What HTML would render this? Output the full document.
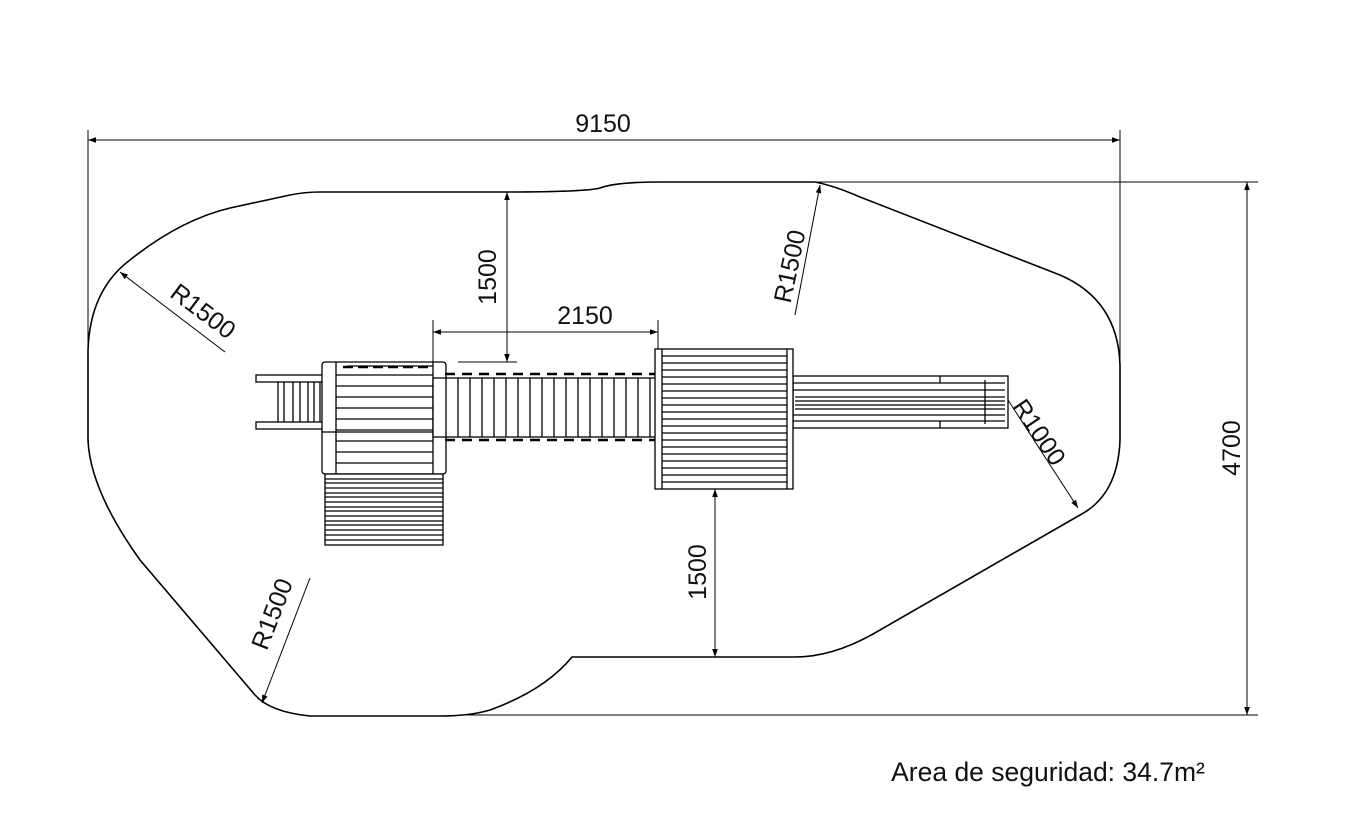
<!DOCTYPE html>
<html><head><meta charset="utf-8"><style>body{margin:0;background:#fff}svg{display:block}text{font-family:"Liberation Sans",sans-serif;font-size:25px;fill:#111}</style></head><body>
<svg width="1368" height="813" viewBox="0 0 1368 813" xmlns="http://www.w3.org/2000/svg">
<defs><marker id="a" viewBox="0 0 10 10" refX="10" refY="5" markerWidth="18" markerHeight="8" markerUnits="userSpaceOnUse" orient="auto-start-reverse"><path d="M0 1.5 L10 5 L0 8.5 Z" fill="#000"/></marker></defs>
<g fill="none" stroke="#000" stroke-width="1.6">
<path d="M320 192 L505 192 Q585 192 600 188 Q615 182 660 182 L815 182 Q835 186 860 197 L1060 275 Q1118 300 1120 365 L1120 440 Q1118 495 1080 515 L880 630 Q835 657 795 657 L572 657 Q545 690 490 710 Q470 716 440 716 L310 716 Q270 712 255 695 L140 560 Q90 490 88 440 L88 350 Q90 290 130 260 Q180 220 230 208 L290 195 Q305 192 320 192 Z"/>
</g>
<g fill="none" stroke="#000" stroke-width="1">
<line x1="88" y1="130" x2="88" y2="355"/><line x1="1120" y1="130" x2="1120" y2="362"/>
<line x1="88" y1="140" x2="1120" y2="140" marker-start="url(#a)" marker-end="url(#a)"/>
<line x1="815" y1="182" x2="1258" y2="182"/><line x1="460" y1="715" x2="1258" y2="715"/>
<line x1="1247" y1="182" x2="1247" y2="715" marker-start="url(#a)" marker-end="url(#a)"/>
<line x1="507" y1="192" x2="507" y2="362" marker-start="url(#a)" marker-end="url(#a)"/>
<line x1="458" y1="362" x2="517" y2="362"/>
<line x1="433" y1="320" x2="433" y2="362"/><line x1="658" y1="320" x2="658" y2="350"/>
<line x1="433" y1="332" x2="658" y2="332" marker-start="url(#a)" marker-end="url(#a)"/>
<line x1="715" y1="489" x2="715" y2="657" marker-start="url(#a)" marker-end="url(#a)"/>
<line x1="225" y1="352" x2="120" y2="272" marker-end="url(#a)"/>
<line x1="795" y1="315" x2="820" y2="185" marker-end="url(#a)"/>
<line x1="1008" y1="400" x2="1078" y2="508" marker-end="url(#a)"/>
<line x1="310" y1="578" x2="262" y2="703" marker-end="url(#a)"/>
</g>
<text x="603" y="132" text-anchor="middle">9150</text>
<text x="585" y="324" text-anchor="middle">2150</text>
<text transform="translate(496,277) rotate(-90)" text-anchor="middle">1500</text>
<text transform="translate(706,572) rotate(-90)" text-anchor="middle">1500</text>
<text transform="translate(1240,448) rotate(-90)" text-anchor="middle">4700</text>
<text transform="translate(198,318) rotate(37)" text-anchor="middle">R1500</text>
<text transform="translate(798,268) rotate(-78)" text-anchor="middle">R1500</text>
<text transform="translate(1032,437) rotate(56)" text-anchor="middle">R1000</text>
<text transform="translate(280,617) rotate(-69)" text-anchor="middle">R1500</text>
<text x="1048" y="781" text-anchor="middle" style="font-size:26.5px">Area de seguridad: 34.7m²</text>
<g fill="#fff" stroke="#000" stroke-width="1.3">
<rect x="256" y="375" width="72" height="7"/><rect x="256" y="422" width="72" height="7"/>
<path d="M278 382V422M284 382V422M293 382V422M300 382V422M308 382V422M314 382V422M320 382V422M325 382V422"/>
<rect x="322" y="362" width="124" height="112" rx="3"/>
<path d="M336 362V474M433 362V474M336 375H433M336 386H433M336 397H433M336 408H433M336 419H433M336 430H433M336 441H433M336 452H433M336 463H433M322 432H446M347 366H433" />
<path d="M343 367H433" stroke-dasharray="10 5" stroke-width="2.5"/>
<rect x="325" y="474" width="118" height="71"/>
<path d="M325 479H443M325 483H443M325 488H443M325 493H443M325 497H443M325 502H443M325 507H443M325 511H443M325 516H443M325 521H443M325 525H443M325 530H443M325 535H443M325 540H443"/>
<rect x="433" y="378" width="225" height="59"/>
<path d="M446 378V437M458 378V437M470 378V437M482 378V437M494 378V437M506 378V437M518 378V437M530 378V437M542 378V437M554 378V437M566 378V437M578 378V437M590 378V437M602 378V437M614 378V437M626 378V437M638 378V437M650 378V437"/>
<path d="M445 374H655M445 440H655" stroke-dasharray="10 7" stroke-width="2.5"/>
<rect x="793" y="376" width="215" height="52"/>
<path d="M793 383H1005M793 390H1005M795 397H1005M795 401H1005M795 405H1005M795 409H1005M793 415H1005M793 421H1005M940 376V383M940 421V428M985 380V424"/>
<rect x="655" y="349" width="138" height="140"/>
<path d="M662 349V489M787 349V489"/>
<path d="M662 356H787M662 363H787M662 370H787M662 377H787M662 384H787M662 391H787M662 398H787M662 405H787M662 412H787M662 419H787M662 426H787M662 433H787M662 440H787M662 447H787M662 454H787M662 461H787M662 468H787M662 475H787M662 482H787"/>
</g>
</svg>
</body></html>
